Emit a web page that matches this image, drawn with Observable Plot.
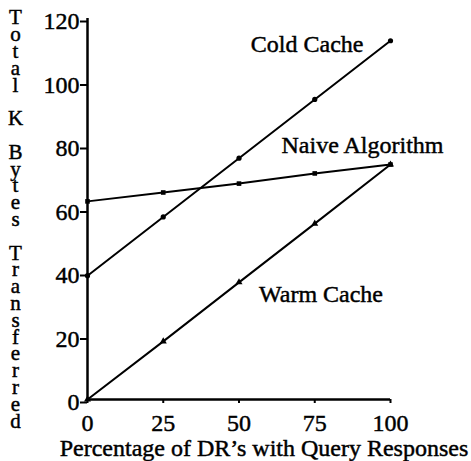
<!DOCTYPE html>
<html><head><meta charset="utf-8">
<script src="https://cdn.jsdelivr.net/npm/d3@7"></script>
<script src="https://cdn.jsdelivr.net/npm/@observablehq/plot@0.6"></script>
<style>body{margin:0;background:#fff} svg text{stroke:#000;stroke-width:0.45px}</style>
</head><body><div id="chart"></div>
<script>
const percents = [0, 25, 50, 75, 100];
const coldCache = [39, 57.5, 76, 94.5, 113];
const naiveAlgorithm = [62.4, 65.2, 68, 71.2, 74];
const warmCache = [0, 18.3, 36.9, 55.4, 74];
const xTicks = [0, 25, 50, 75, 100];
const yTicks = [0, 20, 40, 60, 80, 100, 120];
const yLabel = "Total K Bytes Transferred";
const xLabel = "Percentage of DR\u2019s with Query Responses";

const series = [
  {name: "Cold Cache", values: coldCache, symbol: "circle"},
  {name: "Naive Algorithm", values: naiveAlgorithm, symbol: "square"},
  {name: "Warm Cache", values: warmCache, symbol: "triangle"}
];
const rows = series.flatMap(s => percents.map((p, i) => ({series: s.name, x: p, y: s.values[i], symbol: s.symbol})));
const end = name => rows.filter(d => d.series === name && d.x === 100);
const mid = name => rows.filter(d => d.series === name && d.x === 50);

const font = "'Liberation Serif', 'DejaVu Serif', serif";
const chart = Plot.plot({
  width: 471, height: 461,
  marginLeft: 87, marginTop: 18, marginBottom: 62, marginRight: 81,
  style: {fontFamily: font, fontSize: "24px", color: "#000", background: "#fff"},
  x: {domain: [0, 100], ticks: xTicks, label: null},
  y: {domain: [0, 120], ticks: yTicks, label: null},
  marks: [
    Plot.axisY({ticks: yTicks, tickSize: 7, tickPadding: 1, strokeWidth: 2, fontSize: 24, dy: 3, label: null}),
    Plot.axisX({ticks: xTicks, tickSize: 4, tickPadding: 10, strokeWidth: 2, fontSize: 24, label: null}),
    Plot.ruleX([0], {strokeWidth: 2.5}),
    Plot.ruleY([0], {strokeWidth: 2.5}),
    Plot.line(rows, {x: "x", y: "y", z: "series", stroke: "#000", strokeWidth: 2}),
    Plot.dot(rows, {x: "x", y: "y", symbol: "symbol", r: 2.6, fill: "#000", stroke: "none"}),
    Plot.text(end("Cold Cache"), {x: "x", y: "y", text: d => d.series, textAnchor: "end", dx: -27, dy: 4, fontSize: 24}),
    Plot.text(end("Naive Algorithm"), {x: "x", y: "y", text: d => d.series, textAnchor: "end", dx: 53, dy: -19, fontSize: 24}),
    Plot.text(mid("Warm Cache"), {x: "x", y: "y", text: d => d.series, textAnchor: "start", dx: 20, dy: 12, fontSize: 24}),
    Plot.text([yLabel], {frameAnchor: "top-left", text: d => d.split("").join("\n"), dx: -72, dy: -6, lineAnchor: "top", textAnchor: "middle", lineHeight: 0.8, fontSize: 21}),
    Plot.text([xLabel], {frameAnchor: "bottom", text: d => d, dx: 25, dy: 56, fontSize: 24})
  ]
});
document.getElementById("chart").appendChild(chart);
</script>
</body></html>
